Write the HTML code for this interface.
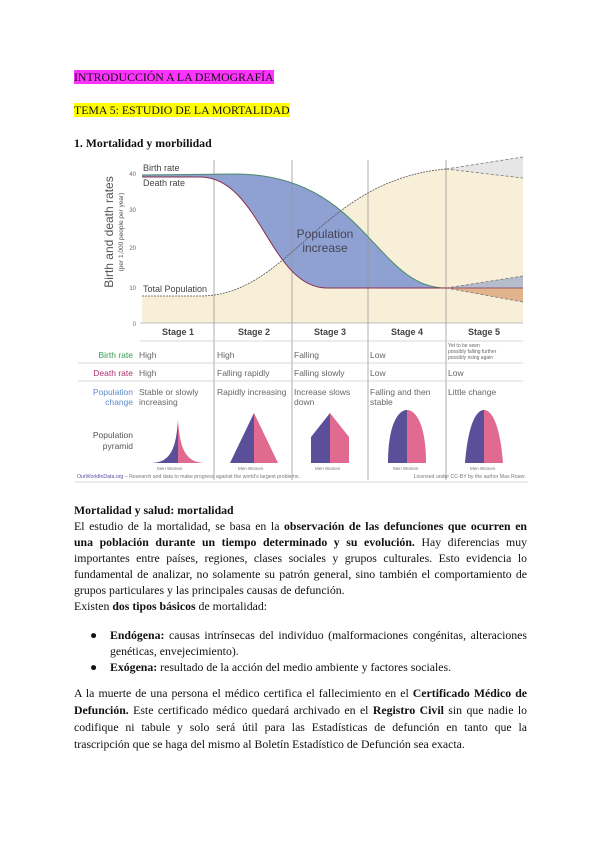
<!DOCTYPE html>
<html><head><meta charset="utf-8"><style>
body{margin:0;background:#fff;}
#p{position:relative;width:600px;height:848px;overflow:hidden;font-family:"Liberation Serif",serif;font-size:11.8px;color:#111;}
.l{position:absolute;left:74px;width:453px;white-space:nowrap;line-height:15px;}
.j{text-align:justify;text-align-last:justify;white-space:normal;height:15px;overflow:visible;}
b{font-weight:bold;}
svg text{font-family:"Liberation Sans",sans-serif;}
</style></head><body><div id="p">
<div class="l" style="top:70px"><span style="background:#ff33ff">INTRODUCCIÓN A LA DEMOGRAFÍA</span></div>
<div class="l" style="top:103px"><span style="background:#ffff00">TEMA 5: ESTUDIO DE LA MORTALIDAD</span></div>
<div class="l" style="top:136px"><b>1. Mortalidad y morbilidad</b></div>

<svg style="position:absolute;left:0;top:0" width="600" height="848" viewBox="0 0 600 848">
<path d="M142,296 L200,296 C290,296 320,180 446,169 L523,157 L523,323 L142,323 Z" fill="#f8efd9"/>
<path d="M446,169 L523,157 L523,178 Z" fill="#e6e6e6"/>
<path d="M142,175 L235,174 C365,174 375,288 446,288 L327,288 C270,288 260,177 200,177 L142,177 Z" fill="#8fa0d2"/>
<path d="M446,288 L523,276 L523,288 Z" fill="#b5bccb"/>
<path d="M446,288 L523,288 L523,302 Z" fill="#e2b48e"/>
<g stroke="#999" stroke-width="0.8">
<line x1="214" y1="160" x2="214" y2="480"/><line x1="292" y1="160" x2="292" y2="480"/>
<line x1="368" y1="160" x2="368" y2="480"/><line x1="446" y1="160" x2="446" y2="480"/>
</g>
<path d="M142,175 L235,174 C365,174 375,288 446,288" fill="none" stroke="#4a8a6a" stroke-width="1"/>
<path d="M142,177 L200,177 C260,177 270,288 327,288 L446,288" fill="none" stroke="#8a3050" stroke-width="1"/>
<path d="M142,296 L200,296 C290,296 320,180 446,169" fill="none" stroke="#555" stroke-width="0.8" stroke-dasharray="2,1"/>
<g fill="none" stroke="#777" stroke-width="0.8" stroke-dasharray="3,2">
<path d="M446,169 L523,157 M446,169 L523,178 M446,288 L523,276 M446,288 L523,302"/></g>
<line x1="446" y1="288" x2="523" y2="288" stroke="#8a3050" stroke-width="0.8"/>
<line x1="140" y1="323" x2="523" y2="323" stroke="#aaa" stroke-width="0.8"/>
<g font-size="6" fill="#666" text-anchor="end"><text x="136" y="176">40</text><text x="136" y="212">30</text><text x="136" y="250">20</text><text x="136" y="290">10</text><text x="136" y="326">0</text></g>
<text transform="translate(113,232) rotate(-90)" font-size="12" fill="#555" text-anchor="middle">Birth and death rates</text>
<text transform="translate(123,232) rotate(-90)" font-size="6.5" fill="#555" text-anchor="middle">(per 1,000 people per year)</text>
<g font-size="9" fill="#444"><text x="143" y="171">Birth rate</text><text x="143" y="186">Death rate</text><text x="143" y="292">Total Population</text></g>
<text x="325" y="238" font-size="12" fill="#445" text-anchor="middle">Population</text>
<text x="325" y="252" font-size="12" fill="#445" text-anchor="middle">increase</text>
<g font-size="9" font-weight="bold" fill="#444" text-anchor="middle"><text x="178" y="335">Stage 1</text><text x="254" y="335">Stage 2</text><text x="330" y="335">Stage 3</text><text x="407" y="335">Stage 4</text><text x="484" y="335">Stage 5</text></g>
<g stroke="#ccc" stroke-width="0.8"><line x1="140" y1="341" x2="523" y2="341"/><line x1="78" y1="363" x2="523" y2="363"/><line x1="78" y1="381" x2="523" y2="381"/><line x1="75" y1="482" x2="528" y2="482"/></g>
<g font-size="8.5" text-anchor="end"><text x="133" y="358" fill="#3a9a50">Birth rate</text><text x="133" y="376" fill="#b03070">Death rate</text><text x="133" y="395" fill="#5a8ac8">Population</text><text x="133" y="405" fill="#5a8ac8">change</text><text x="133" y="438" fill="#555">Population</text><text x="133" y="449" fill="#555">pyramid</text></g>
<g font-size="8.5" fill="#666"><text x="139" y="358">High</text><text x="217" y="358">High</text><text x="294" y="358">Falling</text><text x="370" y="358">Low</text>
<text x="139" y="376">High</text><text x="217" y="376">Falling rapidly</text><text x="294" y="376">Falling slowly</text><text x="370" y="376">Low</text><text x="448" y="376">Low</text>
<text x="139" y="395">Stable or slowly</text><text x="139" y="405">increasing</text><text x="217" y="395">Rapidly increasing</text><text x="294" y="395">Increase slows</text><text x="294" y="405">down</text><text x="370" y="395">Falling and then</text><text x="370" y="405">stable</text><text x="448" y="395">Little change</text></g>
<g font-size="5" fill="#666"><text x="448" y="347">Yet to be seen</text><text x="448" y="353">possibly falling further</text><text x="448" y="359">possibly rising again</text></g>
<g>
<path d="M152,463 C170,462 176,450 178,420 L178,463Z" fill="#5b4f9a"/><path d="M178,420 C180,450 186,462 204,463 L178,463Z" fill="#e06a90"/>
<path d="M230,463 L254,413 L254,463Z" fill="#5b4f9a"/><path d="M254,413 L278,463 L254,463Z" fill="#e06a90"/>
<path d="M311,463 L311,437 L330,413 L330,463Z" fill="#5b4f9a"/><path d="M330,413 L349,437 L349,463 L330,463Z" fill="#e06a90"/>
<path d="M388,463 C388,425 398,410 407,410 L407,463Z" fill="#5b4f9a"/><path d="M407,410 C416,410 426,425 426,463 L407,463Z" fill="#e06a90"/>
<path d="M465,463 C468,425 476,410 484,410 L484,463Z" fill="#5b4f9a"/><path d="M484,410 C492,410 500,425 503,463 L484,463Z" fill="#e06a90"/></g>
<g font-size="4.5" fill="#777"><text x="157" y="470">Men  Women</text><text x="238" y="470">Men  Women</text><text x="315" y="470">Men  Women</text><text x="393" y="470">Men  Women</text><text x="470" y="470">Men  Women</text></g>
<text x="77" y="478" font-size="5.2" fill="#777"><tspan fill="#5a4aa0">OurWorldInData.org</tspan> – Research and data to make progress against the world's largest problems.</text>
<text x="526" y="478" font-size="5.2" fill="#777" text-anchor="end">Licensed under CC-BY by the author Max Roser.</text>
</svg>

<div class="l" style="top:503px"><b>Mortalidad y salud: mortalidad</b></div>
<div class="l j" style="top:519px">El estudio de la mortalidad, se basa en la <b>observación de las defunciones que ocurren en</b></div>
<div class="l j" style="top:535px"><b>una población durante un tiempo determinado y su evolución.</b> Hay diferencias muy</div>
<div class="l j" style="top:551px">importantes entre países, regiones, clases sociales y grupos culturales. Esto evidencia lo</div>
<div class="l j" style="top:567px">fundamental de analizar, no solamente su patrón general, sino también el comportamiento de</div>
<div class="l" style="top:583px">grupos particulares y las principales causas de defunción.</div>
<div class="l" style="top:599px">Existen <b>dos tipos básicos</b> de mortalidad:</div>
<div class="l" style="top:628px;left:90px">●</div>
<div class="l j" style="top:628px;left:110px;width:417px"><b>Endógena:</b> causas intrínsecas del individuo (malformaciones congénitas, alteraciones</div>
<div class="l" style="top:644px;left:110px">genéticas, envejecimiento).</div>
<div class="l" style="top:660px;left:90px">●</div>
<div class="l" style="top:660px;left:110px"><b>Exógena:</b> resultado de la acción del medio ambiente y factores sociales.</div>
<div class="l j" style="top:686px">A la muerte de una persona el médico certifica el fallecimiento en el <b>Certificado Médico de</b></div>
<div class="l j" style="top:703px"><b>Defunción.</b> Este certificado médico quedará archivado en el <b>Registro Civil</b> sin que nadie lo</div>
<div class="l j" style="top:720px">codifique ni tabule y solo será útil para las Estadísticas de defunción en tanto que la</div>
<div class="l" style="top:737px">trascripción que se haga del mismo al Boletín Estadístico de Defunción sea exacta.</div>
</div></body></html>
